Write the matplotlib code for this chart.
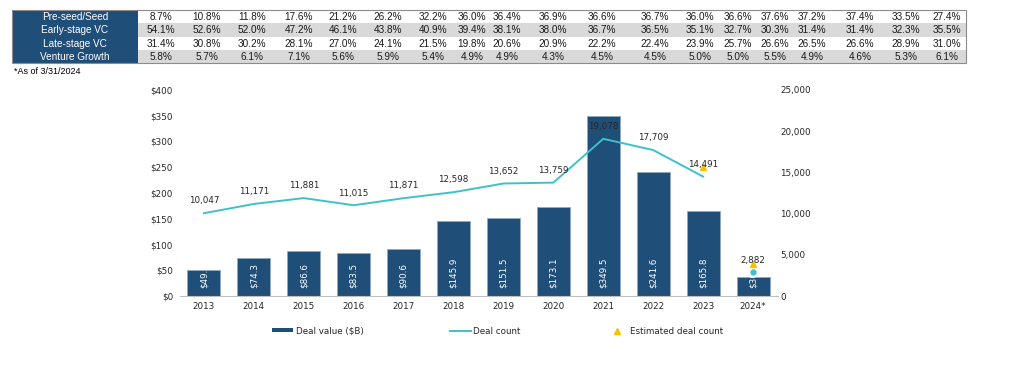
import matplotlib
matplotlib.use("Agg")
import matplotlib.pyplot as plt
from matplotlib.patches import Rectangle
from matplotlib.lines import Line2D
from matplotlib.ticker import FuncFormatter, MultipleLocator

# ---------------- data ----------------
stages = ["Pre-seed/Seed", "Early-stage VC", "Late-stage VC", "Venture Growth"]
pre_seed = ["8.7%", "10.8%", "11.8%", "17.6%", "21.2%", "26.2%", "32.2%", "36.0%", "36.4%", "36.9%",
            "36.6%", "36.7%", "36.0%", "36.6%", "37.6%", "37.2%", "37.4%", "33.5%", "27.4%"]
early_vc = ["54.1%", "52.6%", "52.0%", "47.2%", "46.1%", "43.8%", "40.9%", "39.4%", "38.1%", "38.0%",
            "36.7%", "36.5%", "35.1%", "32.7%", "30.3%", "31.4%", "31.4%", "32.3%", "35.5%"]
late_vc = ["31.4%", "30.8%", "30.2%", "28.1%", "27.0%", "24.1%", "21.5%", "19.8%", "20.6%", "20.9%",
           "22.2%", "22.4%", "23.9%", "25.7%", "26.6%", "26.5%", "26.6%", "28.9%", "31.0%"]
venture_growth = ["5.8%", "5.7%", "6.1%", "7.1%", "5.6%", "5.9%", "5.4%", "4.9%", "4.9%", "4.3%",
                  "4.5%", "4.5%", "5.0%", "5.0%", "5.5%", "4.9%", "4.6%", "5.3%", "6.1%"]
table_rows = [pre_seed, early_vc, late_vc, venture_growth]

years = ["2013", "2014", "2015", "2016", "2017", "2018", "2019", "2020", "2021", "2022", "2023", "2024*"]
deal_value = [49.9, 74.3, 86.6, 83.5, 90.6, 145.9, 151.5, 173.1, 349.5, 241.6, 165.8, 36.6]
deal_count = [10047, 11171, 11881, 11015, 11871, 12598, 13652, 13759, 19078, 17709, 14491, 2882]
est_years_idx = [10, 11]
est_count = [15600, 3900]
footnote = "*As of 3/31/2024"

# ---------------- style ----------------
BLUE = "#1F4E79"
TEAL = "#3EC1C9"
GOLD = "#F5C400"
GRAY_ROW = "#D9D9D9"
TXT = "#262626"
chart_font = "DejaVu Sans"
table_font = "Liberation Sans"
FS = 6.3

W, H = 1024, 379
fig = plt.figure(figsize=(W / 100, H / 100), dpi=100)

# ---------------- table (overlay axes in pixel coords) ----------------
tab = fig.add_axes([0, 0, 1, 1])
tab.set_xlim(0, W)
tab.set_ylim(H, 0)
tab.axis("off")
x_left, x_lab, x_right = 12, 138, 966
y_top, row_h = 10, 13.25
col_centers = [161, 207, 252, 299, 343, 388, 433, 472, 507, 553,
               602, 655, 700, 738, 775, 812, 860, 906, 947]
for r, (name, vals) in enumerate(zip(stages, table_rows)):
    y0 = y_top + r * row_h
    tab.add_patch(Rectangle((x_left, y0), x_lab - x_left, row_h, facecolor=BLUE, edgecolor="none"))
    tab.add_patch(Rectangle((x_lab, y0), x_right - x_lab, row_h,
                            facecolor=("white" if r % 2 == 0 else GRAY_ROW), edgecolor="none"))
    tab.text((x_left + x_lab) / 2, y0 + row_h / 2 + 0.5, name, color="white", ha="center", va="center",
             fontsize=7.2, family=table_font)
    for cx, v in zip(col_centers, vals):
        tab.text(cx, y0 + row_h / 2 + 0.5, v, color="#1a1a1a", ha="center", va="center",
                 fontsize=7.2, family=table_font)
tab.add_patch(Rectangle((x_left, y_top), x_right - x_left, 4 * row_h, facecolor="none",
                        edgecolor="#8C8C8C", lw=0.8))
tab.text(14, 72, footnote, ha="left", va="center", fontsize=6.5, family=table_font, color="black")

# ---------------- chart ----------------
ax = fig.add_axes([180 / W, 1 - 296 / H, (778 - 180) / W, (296 - 90) / H])
x = list(range(len(years)))
ax.bar(x, deal_value, width=0.66, color=BLUE, edgecolor="#8EA9C1", linewidth=0.6, zorder=2)
ax.set_ylim(0, 400)
ax.set_xlim(-0.48, 11.5)
ax.yaxis.set_major_locator(MultipleLocator(50))
ax.yaxis.set_major_formatter(FuncFormatter(lambda v, p: f"${v:.0f}"))
ax.set_xticks(x)
ax.set_xticklabels(years)
for s in ["top", "left", "right"]:
    ax.spines[s].set_visible(False)
ax.spines["bottom"].set_color("#BFBFBF")
ax.tick_params(axis="both", length=0, labelsize=FS, colors=TXT, labelfontfamily=chart_font)
ax.tick_params(axis="y", pad=5)
ax.tick_params(axis="x", pad=4)

for xi, v in zip(x, deal_value):
    ax.text(xi, 15, f"${v:.1f}", rotation=90, color="white", ha="center", va="bottom",
            fontsize=FS, family=chart_font, zorder=3, clip_on=True)

ax2 = ax.twinx()
ax2.set_ylim(0, 25000)
ax2.yaxis.set_major_locator(MultipleLocator(5000))
ax2.yaxis.set_major_formatter(FuncFormatter(lambda v, p: f"{v:,.0f}"))
for s in ["top", "left", "right", "bottom"]:
    ax2.spines[s].set_visible(False)
ax2.tick_params(axis="y", length=0, labelsize=FS, colors=TXT, labelfontfamily=chart_font, pad=1.5)

ax2.plot(x[:11], deal_count[:11], color=TEAL, lw=1.4, zorder=4)
ax2.plot([x[11]], [deal_count[11]], marker="o", ms=3.5, color=TEAL, lw=0, zorder=4)
ax2.plot([x[i] for i in est_years_idx], est_count, marker="^", ms=5, color=GOLD, lw=0, zorder=5)
for xi, c in zip(x, deal_count):
    ax2.annotate(f"{c:,}", (xi, c), xytext=(0, 8.8), textcoords="offset points", ha="center",
                 va="center", fontsize=FS, family=chart_font, color=TXT, zorder=6)

# ---------------- legend ----------------
handles = [Rectangle((0, 0), 1, 1, facecolor=BLUE, edgecolor="none"),
           Line2D([0], [0], color=TEAL, lw=1.4),
           Line2D([0], [0], color=GOLD, marker="^", ms=4, lw=0)]
labels = ["Deal value ($B)", "Deal count", "Estimated deal count"]
leg = fig.legend(handles, labels, loc="center", bbox_to_anchor=(0.486, 1 - 331 / H), ncol=3,
                 frameon=False, handlelength=2.4, handleheight=0.35,
                 columnspacing=9.8, handletextpad=0.3, prop={"family": chart_font, "size": FS})
for t in leg.get_texts():
    t.set_color(TXT)

fig.savefig("out.png", dpi=100)
